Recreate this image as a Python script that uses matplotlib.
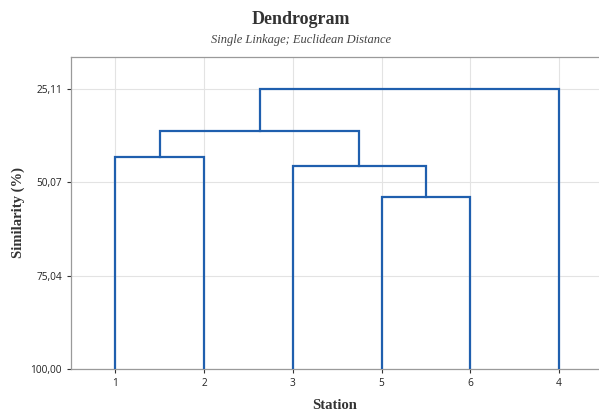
import matplotlib.pyplot as plt

# Leaf order along the x axis
stations = ['1', '2', '3', '5', '6', '4']
# Merges in order: (left members, right members) and the similarity at which they join
clusters = [
    (['1'], ['2']),
    (['5'], ['6']),
    (['3'], ['5', '6']),
    (['1', '2'], ['3', '5', '6']),
    (['1', '2', '3', '5', '6'], ['4']),
]
merge_sim = [43.30, 54.01, 45.71, 36.35, 25.11]
y_ticks = [25.11, 50.07, 75.04, 100.00]
y_labels = ['25,11', '50,07', '75,04', '100,00']

fig = plt.figure(figsize=(5.99, 4.13), dpi=100)
ax = fig.add_axes([71 / 599, 1 - 369 / 413, 528 / 599, 312 / 413])

pos = {s: (i + 1, 100.0) for i, s in enumerate(stations)}
line_color = '#1f5fae'
for (left, right), h in zip(clusters, merge_sim):
    xl, yl = pos[' '.join(left)]
    xr, yr = pos[' '.join(right)]
    ax.plot([xl, xl, xr, xr], [yl, h, h, yr], color=line_color, lw=1.6,
            solid_joinstyle='miter', zorder=3)
    pos[' '.join(left + right)] = ((xl + xr) / 2, h)

ax.set_xlim(0.5, 6.45)
ax.set_ylim(100, 16.55)
ax.set_xticks(range(1, len(stations) + 1))
ax.set_xticklabels(stations)
ax.set_yticks(y_ticks)
ax.set_yticklabels(y_labels)
ax.tick_params(labelsize=7.3, colors='#333333', length=3, width=0.8,
               labelcolor='#222222')
for lab in ax.get_xticklabels() + ax.get_yticklabels():
    lab.set_family('Open Sans')
ax.grid(True, color='#e3e3e3', lw=0.8, zorder=0)
for sp in ax.spines.values():
    sp.set_color('#9a9a9a')
    sp.set_linewidth(0.9)
ax.spines['right'].set_visible(False)

serif = 'Liberation Serif'
fig.text(0.502, 1 - 20 / 413, 'Dendrogram', ha='center', va='center',
         fontsize=13, fontweight='bold', family=serif, color='#333333')
fig.text(0.502, 1 - 40 / 413, 'Single Linkage; Euclidean Distance',
         ha='center', va='center', fontsize=9, style='italic', family=serif,
         color='#444444')
ax.set_xlabel('Station', fontsize=10.5, fontweight='bold', family=serif,
              color='#333333', labelpad=7)
ax.set_ylabel('Similarity (%)', fontsize=10.5, fontweight='bold', family=serif,
              color='#333333', labelpad=4)

fig.savefig('out.png', dpi=100)
